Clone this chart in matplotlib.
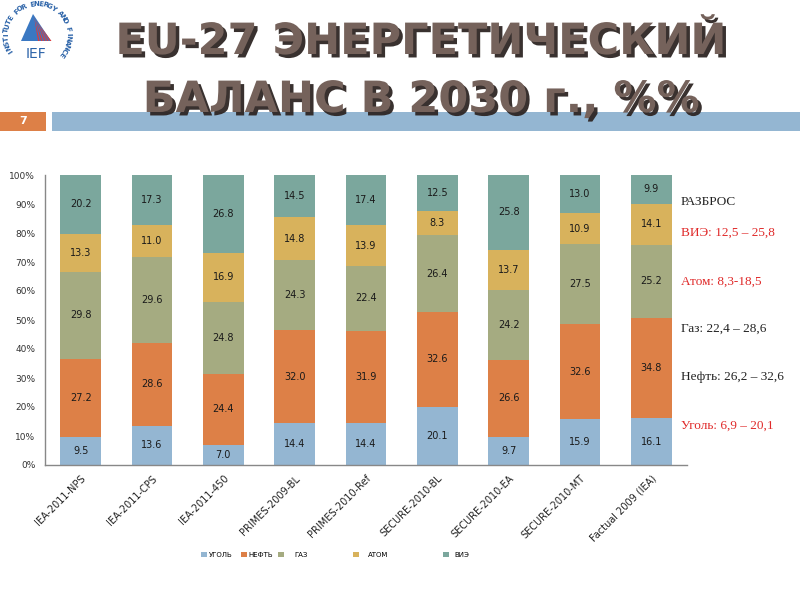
import numpy as np
import matplotlib
matplotlib.use("Agg")
import matplotlib.pyplot as plt
import matplotlib.patheffects as pe
from matplotlib.patches import Rectangle, Polygon

# данные (доли в энергобалансе EU-27 в 2030 г., %)
scenarios = ["IEA-2011-NPS", "IEA-2011-CPS", "IEA-2011-450", "PRIMES-2009-BL", "PRIMES-2010-Ref",
             "SECURE-2010-BL", "SECURE-2010-EA", "SECURE-2010-MT", "Factual 2009 (IEA)"]
coal = [9.5, 13.6, 7.0, 14.4, 14.4, 20.1, 9.7, 15.9, 16.1]
oil = [27.2, 28.6, 24.4, 32.0, 31.9, 32.6, 26.6, 32.6, 34.8]
gas = [29.8, 29.6, 24.8, 24.3, 22.4, 26.4, 24.2, 27.5, 25.2]
atom = [13.3, 11.0, 16.9, 14.8, 13.9, 8.3, 13.7, 10.9, 14.1]
res = [20.2, 17.3, 26.8, 14.5, 17.4, 12.5, 25.8, 13.0, 9.9]
series_names = ["УГОЛЬ", "НЕФТЬ", "ГАЗ", "АТОМ", "ВИЭ"]
y_ticks = [0, 10, 20, 30, 40, 50, 60, 70, 80, 90, 100]

notes = ["РАЗБРОС", "ВИЭ: 12,5 – 25,8", "Атом: 8,3-18,5", "Газ: 22,4 – 28,6",
         "Нефть: 26,2 – 32,6", "Уголь: 6,9 – 20,1"]

colors = ["#94b6d2", "#dd8047", "#a5ab81", "#d8b25c", "#7ba79d"]
note_colors = ["#222222", "#e02a2a", "#e02a2a", "#222222", "#222222", "#e02a2a"]
note_y = [202, 233, 282, 329, 377, 426]
legend_x = [201, 241, 278, 353, 443]   # левый край маркера, px
legend_pad = [0.4, 0.2, 1.6, 1.4, 0.9]

W, H = 800, 600
fig = plt.figure(figsize=(8, 6), dpi=100)
fig.patch.set_facecolor("white")


def px(x, y):
    """пиксели картинки -> доли фигуры"""
    return x / W, 1 - y / H


# шапка: заголовок с тенью
title_fx = [pe.withSimplePatchShadow(offset=(2.5, -2.5), shadow_rgbFace="#2e2624", alpha=0.95)]
for line, yy in [("EU-27 ЭНЕРГЕТИЧЕСКИЙ", 54), ("БАЛАНС В 2030 г., %%", 112)]:
    fig.text(*px(421, yy), line, ha="center", va="baseline", fontsize=31, fontweight="bold",
             color="#75625b", family="DejaVu Sans", path_effects=title_fx)

# полоса под заголовком
fig.add_artist(Rectangle(px(0, 131), 46 / W, 19 / H, transform=fig.transFigure,
                         facecolor="#dd8047", edgecolor="none"))
fig.add_artist(Rectangle(px(52, 131), 748 / W, 19 / H, transform=fig.transFigure,
                         facecolor="#94b6d2", edgecolor="none"))
fig.text(*px(23, 121), "7", ha="center", va="center", fontsize=8, color="white", fontweight="bold")

# логотип IEF
cx, cy, r = 37, 35, 31
logo_text = "INSTITUTE FOR ENERGY AND FINANCE"
angles = np.linspace(212, -38, len(logo_text))
for ch, a in zip(logo_text, angles):
    t = np.deg2rad(a)
    fig.text(*px(cx + r * np.cos(t), cy - r * np.sin(t)), ch, ha="center", va="center",
             fontsize=5, fontweight="bold", color="#2a62a8", rotation=a - 90)
fig.add_artist(Polygon([px(33, 14), px(21, 41), px(51, 41)], closed=True,
                       transform=fig.transFigure, facecolor="#3a78c2", edgecolor="none"))
for k in range(5):
    fig.add_artist(Polygon([px(34 + k * 1.2, 16 + k * 2), px(38 + k * 3, 41), px(39.5 + k * 3, 41)],
                           closed=True, transform=fig.transFigure,
                           facecolor="#e03a3a", edgecolor="none"))
fig.text(*px(36, 54), "IEF", ha="center", va="center", fontsize=10, color="#2a62a8")

# диаграмма
ax = fig.add_axes([45 / W, 1 - 465 / H, 642 / W, 290 / H])
data = np.array([coal, oil, gas, atom, res])
shares = data / data.sum(axis=0) * 100
x = np.arange(len(scenarios))
bottom = np.zeros(len(scenarios))
handles = []
for vals, raw, c, name in zip(shares, data, colors, series_names):
    bars = ax.bar(x, vals, 0.57, bottom=bottom, color=c, edgecolor="none", label=name)
    ax.bar_label(bars, labels=[f"{v:.1f}" for v in raw], label_type="center",
                 fontsize=7, color="#1a1a1a")
    handles.append(bars)
    bottom += vals

ax.set_xlim(-0.5, len(scenarios) - 0.5)
ax.set_ylim(0, 100)
ax.set_yticks(y_ticks)
ax.set_yticklabels([f"{v}%" for v in y_ticks], fontsize=6.5, color="#333333")
ax.set_xticks(x)
ax.set_xticklabels(scenarios, rotation=45, ha="right", rotation_mode="anchor",
                   fontsize=7, color="#222222")
ax.tick_params(axis="y", length=0, pad=7)
ax.tick_params(axis="x", length=0, pad=6)
for s in ["top", "right"]:
    ax.spines[s].set_visible(False)
for s in ["left", "bottom"]:
    ax.spines[s].set_color("#888888")
    ax.spines[s].set_linewidth(1)

# легенда: отдельные элементы, как на слайде
for h, name, lx, pad in zip(handles, series_names, legend_x, legend_pad):
    fig.legend(handles=[h], labels=[name], loc="center left", bbox_to_anchor=px(lx, 555),
               frameon=False, fontsize=5, handlelength=0.8, handleheight=0.8,
               handletextpad=pad, borderpad=0, borderaxespad=0)

# разброс по сценариям
for txt, c, yy in zip(notes, note_colors, note_y):
    fig.text(*px(681, yy), txt, ha="left", va="center", fontsize=9.5, color=c,
             family="Liberation Serif")

plt.savefig("out.png", dpi=100)
